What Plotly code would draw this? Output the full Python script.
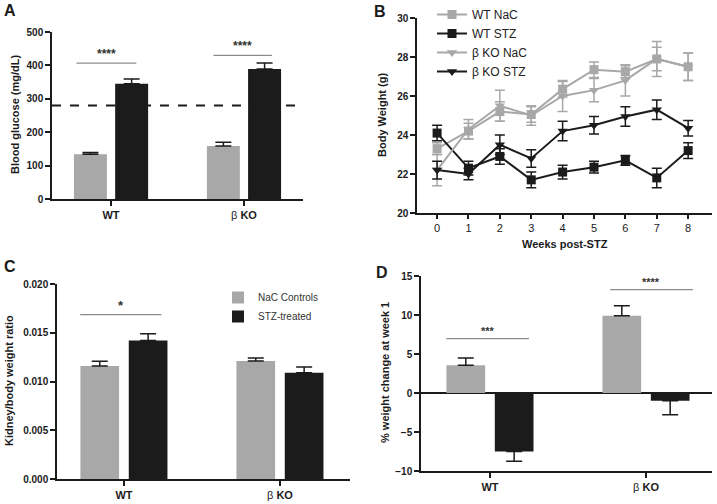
import plotly.graph_objects as go

# ---- data ----
groups = ['WT', 'β KO']
group_labels = ['<b>WT</b>', 'β <b>KO</b>']

# A: blood glucose
glucose_nac = [134, 159]
glucose_nac_err = [5, 11]
glucose_stz = [345, 389]
glucose_stz_err = [14, 18]
glucose_threshold = 280

# B: body weight over time
weeks = [0, 1, 2, 3, 4, 5, 6, 7, 8]
wt_nac = [23.3, 24.2, 25.2, 25.05, 26.35, 27.35, 27.25, 27.9, 27.5]
wt_nac_err = [0.3, 0.4, 0.5, 0.4, 0.4, 0.4, 0.3, 0.6, 0.7]
wt_stz = [24.1, 22.3, 22.9, 21.7, 22.1, 22.35, 22.7, 21.8, 23.2]
wt_stz_err = [0.4, 0.35, 0.4, 0.4, 0.35, 0.3, 0.25, 0.5, 0.4]
ko_nac = [22.2, 24.3, 25.5, 25.0, 26.0, 26.3, 26.8, 27.9, 27.5]
ko_nac_err = [0.8, 0.5, 0.8, 0.5, 0.8, 0.6, 0.8, 0.9, 0.7]
ko_stz = [22.2, 22.0, 23.5, 22.8, 24.2, 24.5, 24.95, 25.3, 24.35]
ko_stz_err = [0.45, 0.3, 0.5, 0.45, 0.5, 0.45, 0.5, 0.5, 0.4]

# C: kidney/body weight ratio
kidney_nac = [0.0116, 0.0121]
kidney_nac_err = [0.00048, 0.0003]
kidney_stz = [0.0142, 0.0109]
kidney_stz_err = [0.0007, 0.0006]

# D: % weight change at week 1
change_nac = [3.55, 9.9]
change_nac_err = [0.95, 1.3]
change_stz = [-7.5, -1.0]
change_stz_err = [1.25, 1.8]

# significance bars: (x0, x1, y, stars)
sig_a = [(-0.26, 0.19, 407, '****'), (0.77, 1.21, 430, '****')]
sig_c = [(-0.28, 0.24, 0.01686, '*')]
sig_d = [(-0.28, 0.25, 6.97, '***'), (0.77, 1.30, 13.25, '****')]

GRAY = '#a8a8a8'
BLACK = '#1b1b1b'
FONT = 'Arial, Liberation Sans, sans-serif'
W, H = 717, 504


def px_x(p):
    return p / W


def px_y(p):
    return 1 - p / H


fig = go.Figure()


def add_bars(xa, ya, nac, nac_err, stz, stz_err, legend=False):
    def errs(vals, e):
        up = [v_e if v >= 0 else 0 for v, v_e in zip(vals, e)]
        dn = [v_e if v < 0 else 0 for v, v_e in zip(vals, e)]
        return dict(type='data', symmetric=False, array=up, arrayminus=dn,
                    color=BLACK, thickness=1.5, width=8)
    fig.add_trace(go.Bar(x=groups, y=nac, marker=dict(color=GRAY, line=dict(width=0)),
                         error_y=errs(nac, nac_err), xaxis=xa, yaxis=ya,
                         name='NaC Controls', showlegend=legend, legend='legend2'))
    fig.add_trace(go.Bar(x=groups, y=stz, marker=dict(color=BLACK, line=dict(width=0)),
                         error_y=errs(stz, stz_err), xaxis=xa, yaxis=ya,
                         name='STZ-treated', showlegend=legend, legend='legend2'))


add_bars('x', 'y', glucose_nac, glucose_nac_err, glucose_stz, glucose_stz_err)
add_bars('x3', 'y3', kidney_nac, kidney_nac_err, kidney_stz, kidney_stz_err, legend=True)
add_bars('x4', 'y4', change_nac, change_nac_err, change_stz, change_stz_err)

# B lines
series_b = [
    ('WT NaC', wt_nac, wt_nac_err, GRAY, 'square'),
    ('WT STZ', wt_stz, wt_stz_err, BLACK, 'square'),
    ('β KO NaC', ko_nac, ko_nac_err, GRAY, 'triangle-down'),
    ('β KO STZ', ko_stz, ko_stz_err, BLACK, 'triangle-down'),
]
for name, vals, err, col, sym in series_b:
    fig.add_trace(go.Scatter(
        x=weeks, y=vals, name=name, mode='lines+markers',
        line=dict(color=col, width=2),
        marker=dict(symbol=sym, size=9, color=col),
        error_y=dict(type='data', array=err, color=col, thickness=1.5, width=5),
        xaxis='x2', yaxis='y2', legend='legend'))

axis_common = dict(showline=True, linecolor=BLACK, linewidth=1.5, ticks='outside',
                   ticklen=5, tickwidth=1.5, tickcolor=BLACK, showgrid=False,
                   zeroline=False, mirror=False,
                   tickfont=dict(family=FONT, size=10, color=BLACK, weight='bold'))

cat_axis = dict(axis_common, type='category', tickmode='array', tickvals=groups,
                ticktext=group_labels, tickfont=dict(family=FONT, size=11, color=BLACK))

fig.update_layout(
    width=W, height=H,
    margin=dict(l=0, r=0, t=0, b=0, autoexpand=False),
    paper_bgcolor='white', plot_bgcolor='white',
    barmode='group', bargap=0.38, bargroupgap=0.2,
    font=dict(family=FONT, color=BLACK),
    # A
    xaxis=dict(cat_axis, domain=[px_x(52), px_x(303)], range=[-0.444, 1.444], anchor='y'),
    yaxis=dict(axis_common, domain=[px_y(199), px_y(32)], range=[0, 500], dtick=100, anchor='x'),
    # B
    xaxis2=dict(axis_common, domain=[px_x(417), px_x(712)], range=[-0.64, 8.76],
                tickvals=weeks, anchor='y2', ticklen=4,
                tickfont=dict(family=FONT, size=11, color=BLACK)),
    yaxis2=dict(axis_common, domain=[px_y(213), px_y(18)], range=[20, 30], dtick=2, anchor='x2'),
    # C
    xaxis3=dict(cat_axis, domain=[px_x(57), px_x(350)], range=[-0.429, 1.449], anchor='y3'),
    yaxis3=dict(axis_common, domain=[px_y(479), px_y(284)], range=[0, 0.02], dtick=0.005,
                tickformat='.3f', anchor='x3'),
    # D
    xaxis4=dict(cat_axis, domain=[px_x(421), px_x(712)], range=[-0.442, 1.423], anchor='y4'),
    yaxis4=dict(axis_common, domain=[px_y(471), px_y(276)], range=[-10, 15], dtick=5,
                anchor='x4', zeroline=True, zerolinecolor=BLACK, zerolinewidth=1.5),
    legend=dict(x=px_x(432), y=1.0, xanchor='left', yanchor='top',
                font=dict(family=FONT, size=12, color='#222222'),
                bgcolor='rgba(0,0,0,0)', tracegroupgap=0, itemwidth=30),
    legend2=dict(x=px_x(218), y=px_y(283), xanchor='left', yanchor='top',
                 font=dict(family=FONT, size=10, color='#333333'),
                 bgcolor='rgba(0,0,0,0)', itemwidth=30),
)

# dashed threshold in A
fig.add_shape(type='line', xref='x domain', yref='y', x0=0, x1=1,
              y0=glucose_threshold, y1=glucose_threshold,
              line=dict(color=BLACK, width=2, dash='dash'))

# significance bars
for (sigs, xr, yr, size) in [(sig_a, 'x', 'y', 12), (sig_c, 'x3', 'y3', 13),
                              (sig_d, 'x4', 'y4', 11)]:
    for x0, x1, yv, stars in sigs:
        fig.add_shape(type='line', xref=xr, yref=yr, x0=x0, x1=x1, y0=yv, y1=yv,
                      line=dict(color='#8c8c8c', width=1.2))
        fig.add_annotation(xref=xr, yref=yr, x=(x0 + x1) / 2, y=yv, text='<b>' + stars + '</b>',
                           showarrow=False, yanchor='bottom',
                           font=dict(family=FONT, size=size, color='#333333'))

# axis titles
title_font = dict(family=FONT, size=11, color=BLACK, weight='bold')
titles = [
    ('Blood glucose (mg/dL)', 15, 115, -90),
    ('Body Weight (g)', 382, 115, -90),
    ('Weeks post-STZ', 565, 244, 0),
    ('Kidney/body weight ratio', 9, 381, -90),
    ('% weight change at week 1', 385, 373, -90),
]
for txt, xp, yp, ang in titles:
    fig.add_annotation(xref='paper', yref='paper', x=px_x(xp), y=px_y(yp), text=txt,
                       textangle=ang, showarrow=False, xanchor='center', yanchor='middle',
                       font=title_font)

# panel letters
for letter, xp, yp in [('A', 2, 0), ('B', 372, 1), ('C', 2, 256), ('D', 374, 262)]:
    fig.add_annotation(xref='paper', yref='paper', x=px_x(xp), y=px_y(yp), text='<b>' + letter + '</b>',
                       showarrow=False, xanchor='left', yanchor='top',
                       font=dict(family=FONT, size=16, color=BLACK))

# the page's default 8px body margin would shift the figure
fig.write_html('out.html', config={'displayModeBar': False},
               post_script="document.body.style.margin='0';")
